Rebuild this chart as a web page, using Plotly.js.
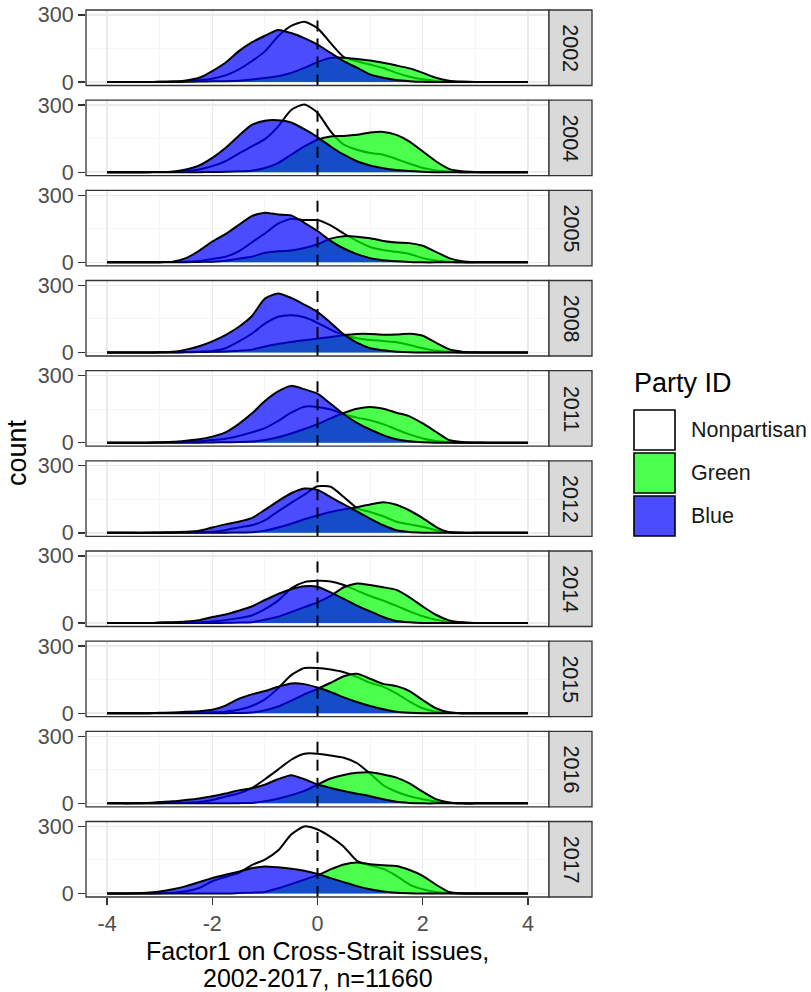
<!DOCTYPE html>
<html><head><meta charset="utf-8">
<script src="https://cdn.plot.ly/plotly-3.0.1.min.js"></script>
<style>html,body{margin:0;padding:0;background:#fff}#chart{width:811px;height:992px}</style>
</head><body><div id="chart"></div>
<script>
// ---------- data ----------
const factor1 = [-4,-3.75,-3.5,-3.25,-3,-2.75,-2.5,-2.25,-2,-1.75,-1.5,-1.25,-1,-0.75,-0.5,-0.25,0,0.25,0.5,0.75,1,1.25,1.5,1.75,2,2.25,2.5,2.75,3,3.25,3.5,3.75,4];
const years = ['2002','2004','2005','2008','2011','2012','2014','2015','2016','2017'];
const parties = ['Nonpartisan','Green','Blue'];
const xTickVals = [-4,-2,0,2,4];
const xTickText = ['-4','-2','0','2','4'];
const xMinorVals = [-3,-1,1,3];
const yTickVals = [0,300];
const yTickText = ['0','300'];
const yMinorVals = [150];

const nonpartisan2002 = [0,0,0,0,1,2,4,8,15,30,56,93,137,204,251,269,241,174,112,93,78,63,41,24,12,5,2,0,0,0,0,0,0];
const green2002       = [0,0,0,0,0,0,1,2,3,4,6,11,18,26,41,63,89,108,109,103,96,86,74,61,41,19,6,2,0,0,0,0,0];
const blue2002        = [0,0,0,0,1,2,7,19,49,86,137,177,207,233,219,196,167,130,93,64,34,19,9,4,1,0,0,0,0,0,0,0,0];

const nonpartisan2004 = [0,0,0,0,1,2,4,12,27,49,83,115,148,204,278,303,266,182,123,100,86,78,59,38,19,8,3,0,0,0,0,0,0];
const green2004       = [0,0,0,0,0,0,0,0,1,2,4,7,19,41,78,115,145,160,162,167,177,180,167,137,93,49,15,4,1,0,0,0,0];
const blue2004        = [0,0,0,0,1,2,12,30,64,108,162,211,230,232,222,192,157,115,78,49,30,18,10,5,2,0,0,0,0,0,0,0,0];

const nonpartisan2005 = [0,0,0,0,1,2,3,6,15,25,49,89,129,173,195,189,189,165,129,96,69,55,47,37,19,8,3,0,0,0,0,0,0];
const green2005       = [0,0,0,0,0,0,1,2,3,7,16,25,43,50,53,64,81,106,117,115,108,96,89,86,74,47,19,5,1,0,0,0,0];
const blue2005        = [0,0,0,0,1,3,19,52,93,126,167,207,222,214,210,177,140,96,62,37,19,10,5,2,0,0,0,0,0,0,0,0,0];

const nonpartisan2008 = [0,0,0,0,1,1,2,4,7,19,49,84,129,160,167,158,133,102,77,64,56,52,46,34,19,8,3,0,0,0,0,0,0];
const green2008       = [0,0,0,0,0,0,1,2,3,5,8,13,27,38,47,55,62,69,78,83,83,80,81,84,75,44,15,4,1,0,0,0,0];
const blue2008        = [0,0,0,0,1,3,13,28,50,78,114,162,241,264,244,214,182,133,81,44,19,10,4,1,0,0,0,0,0,0,0,0,0];

const nonpartisan2011 = [0,0,0,0,1,2,3,6,12,18,30,46,65,97,134,161,160,148,127,112,100,83,59,37,19,8,3,0,0,0,0,0,0];
const green2011       = [0,0,0,0,0,0,0,0,1,2,3,5,12,24,41,61,83,109,133,152,160,152,134,118,86,49,12,3,1,0,0,0,0];
const blue2011        = [0,0,0,0,2,4,9,15,27,46,83,130,186,229,254,239,219,174,127,89,59,34,15,6,2,0,0,0,0,0,0,0,0];

const nonpartisan2012 = [0,0,0,0,0,1,2,3,5,12,24,34,56,96,134,171,208,206,160,111,93,74,50,38,27,12,4,1,0,0,0,0,0];
const green2012       = [0,0,0,0,0,0,0,0,0,1,2,3,10,24,41,61,78,93,105,115,127,137,126,100,66,27,3,0,0,0,0,0,0];
const blue2012        = [0,0,0,0,2,3,5,9,24,38,50,66,103,142,177,198,192,160,127,96,64,34,12,4,1,0,0,0,0,0,0,0,0];

const nonpartisan2014 = [0,0,0,0,1,1,2,3,7,13,22,34,62,100,155,183,189,186,170,145,121,100,77,52,30,15,5,2,0,0,0,0,0];
const green2014       = [0,0,0,0,0,0,0,0,0,1,2,4,15,28,49,71,92,121,160,177,170,160,148,115,74,37,12,3,0,0,0,0,0];
const blue2014        = [0,0,0,0,2,4,7,13,27,38,55,74,103,130,151,164,162,137,108,78,52,27,9,3,0,0,0,0,0,0,0,0,0];

const nonpartisan2015 = [0,0,0,0,1,1,2,3,4,7,15,32,62,111,170,202,202,195,183,162,136,118,89,52,22,6,2,0,0,0,0,0,0];
const green2015       = [0,0,0,0,0,0,0,0,0,0,1,3,13,30,56,84,109,136,165,176,154,131,121,99,59,22,4,0,0,0,0,0,0];
const blue2015        = [0,0,0,0,2,3,6,9,15,34,64,84,99,118,133,130,115,95,71,50,32,18,6,2,0,0,0,0,0,0,0,0,0];

const nonpartisan2016 = [0,0,0,0,1,2,3,6,15,30,44,68,108,151,195,222,222,214,204,180,133,81,52,32,18,8,3,0,0,0,0,0,0];
const green2016       = [0,0,0,0,0,0,0,0,0,0,1,2,10,21,37,56,84,111,127,137,139,129,115,89,52,19,4,0,0,0,0,0,0];
const blue2016        = [0,0,0,2,6,9,15,22,32,44,58,68,84,108,126,108,84,69,55,43,32,18,7,2,0,0,0,0,0,0,0,0,0];

const nonpartisan2017 = [0,0,0,0,1,3,10,25,55,74,91,127,152,192,264,300,286,253,209,146,126,110,79,40,19,7,2,0,0,0,0,0,0];
const green2017       = [0,0,0,0,0,0,0,0,0,0,2,4,7,23,42,62,82,108,130,139,131,126,123,105,79,40,7,1,0,0,0,0,0];
const blue2017        = [0,0,1,3,9,19,33,51,69,84,98,113,121,117,111,102,88,69,51,33,19,9,3,1,0,0,0,0,0,0,0,0,0];

const nonpartisanByYear = [nonpartisan2002,nonpartisan2004,nonpartisan2005,nonpartisan2008,nonpartisan2011,nonpartisan2012,nonpartisan2014,nonpartisan2015,nonpartisan2016,nonpartisan2017];
const greenByYear = [green2002,green2004,green2005,green2008,green2011,green2012,green2014,green2015,green2016,green2017];
const blueByYear = [blue2002,blue2004,blue2005,blue2008,blue2011,blue2012,blue2014,blue2015,blue2016,blue2017];

// ---------- styling / geometry ----------
const FONT = '"Liberation Sans", Arial, sans-serif';
const W = 811, H = 992;
const L = 86, R = 549, T = 10, B = 897;
const PW = R - L, PH = B - T;
const panelH = 75.5;
const pitch = (PH - panelH) / (years.length - 1);
const fills = ['rgba(255,255,255,0.7)','rgba(0,255,0,0.7)','rgba(0,0,255,0.7)'];
const px = v => (v - L) / PW;
const py = v => (B - v) / PH;

const seriesByParty = [nonpartisanByYear, greenByYear, blueByYear];
const traces = [];
const layout = {
  width: W, height: H, autosize: false,
  margin: {l: L, r: W - R, t: T, b: H - B, pad: 0},
  paper_bgcolor: '#fff', plot_bgcolor: '#fff',
  showlegend: false,
  font: {family: FONT, color: '#1a1a1a'},
  shapes: [], annotations: []
};

layout.xaxis = {
  range: [-4.4, 4.4], anchor: 'y' + years.length,
  tickmode: 'array', tickvals: xTickVals, ticktext: xTickText,
  ticks: 'outside', ticklen: 7, tickwidth: 1.3, tickcolor: '#333',
  showline: false,
  showgrid: true, gridcolor: '#ebebeb', gridwidth: 1.4,
  minor: {tickmode: 'array', tickvals: xMinorVals, showgrid: true, gridcolor: '#f4f4f4', gridwidth: 0.8, ticks: ''},
  zeroline: false, tickfont: {size: 21.5, color: '#4d4d4d', family: FONT},
  fixedrange: true
};

years.forEach((yr, i) => {
  const topPx = T + pitch * i;
  const botPx = topPx + panelH;
  const yName = i === 0 ? 'yaxis' : 'yaxis' + (i + 1);
  const yRef = i === 0 ? 'y' : 'y' + (i + 1);
  layout[yName] = {
    domain: [py(botPx), py(topPx)], range: [-15.5, 322], anchor: 'x',
    tickmode: 'array', tickvals: yTickVals, ticktext: yTickText,
    ticks: 'outside', ticklen: 7, tickwidth: 1.3, tickcolor: '#333',
    showline: false,
    showgrid: true, gridcolor: '#ebebeb', gridwidth: 1.4,
    minor: {tickmode: 'array', tickvals: yMinorVals, showgrid: true, gridcolor: '#f4f4f4', gridwidth: 0.8, ticks: ''},
    zeroline: false, tickfont: {size: 21.5, color: '#4d4d4d', family: FONT},
    fixedrange: true
  };
  parties.forEach((p, k) => {
    traces.push({
      type: 'scatter', mode: 'lines', name: p,
      x: factor1, y: seriesByParty[k][i],
      xaxis: 'x', yaxis: yRef,
      fill: 'tozeroy', fillcolor: fills[k],
      line: {color: '#000', width: 2, shape: 'spline', smoothing: 0.6},
      hoverinfo: 'skip'
    });
  });
  // dashed reference line at 0
  layout.shapes.push({type: 'line', xref: 'x', x0: 0, x1: 0, yref: yRef + ' domain', y0: 0, y1: 0.87,
    line: {color: '#000', width: 2, dash: '11px,7px'}, layer: 'above'});
  // panel border
  layout.shapes.push({type: 'rect', xref: 'paper', x0: 0, x1: 1, yref: yRef + ' domain', y0: 0, y1: 1,
    fillcolor: 'rgba(0,0,0,0)', line: {color: '#333', width: 1.3}, layer: 'above'});
  // strip
  layout.shapes.push({type: 'rect', xref: 'paper', x0: 1, x1: px(592), yref: yRef + ' domain', y0: 0, y1: 1,
    fillcolor: '#d9d9d9', line: {color: '#333', width: 1.3}, layer: 'above'});
  layout.annotations.push({text: yr, xref: 'paper', x: px(570.5), yref: yRef + ' domain', y: 0.5,
    showarrow: false, textangle: 90, xanchor: 'center', yanchor: 'middle',
    font: {size: 21.5, color: '#1a1a1a', family: FONT}});
});

// legend (drawn manually)
const legendBoxes = [[410, 450], [453, 493], [496, 536]];
parties.forEach((p, k) => {
  const [y0, y1] = legendBoxes[k];
  layout.shapes.push({type: 'rect', xref: 'paper', yref: 'paper', x0: px(634), x1: px(675), y0: py(y1), y1: py(y0),
    fillcolor: fills[k], line: {color: '#000', width: 1.6}});
  layout.annotations.push({text: p, xref: 'paper', yref: 'paper', x: px(689), y: py((y0 + y1) / 2),
    xanchor: 'left', yanchor: 'middle', showarrow: false, font: {size: 21.5, color: '#1a1a1a', family: FONT}});
});
layout.annotations.push({text: 'Party ID', xref: 'paper', yref: 'paper', x: px(632), y: py(383),
  xanchor: 'left', yanchor: 'middle', showarrow: false, font: {size: 27, color: '#000', family: FONT}});

// axis titles
layout.annotations.push({text: 'count', xref: 'paper', yref: 'paper', x: px(17), y: py(453),
  xanchor: 'center', yanchor: 'middle', textangle: -90, showarrow: false, font: {size: 27, color: '#000', family: FONT}});
layout.annotations.push({text: 'Factor1 on Cross-Strait issues,', xref: 'paper', yref: 'paper', x: px(317.5), y: py(951),
  xanchor: 'center', yanchor: 'middle', borderpad: 0, showarrow: false, font: {size: 25, color: '#000', family: FONT}});
layout.annotations.push({text: '2002-2017, n=11660', xref: 'paper', yref: 'paper', x: px(317.5), y: py(978),
  xanchor: 'center', yanchor: 'middle', borderpad: 0, showarrow: false, font: {size: 25, color: '#000', family: FONT}});

Plotly.newPlot('chart', traces, layout, {displayModeBar: false, staticPlot: true});
</script>
</body></html>
